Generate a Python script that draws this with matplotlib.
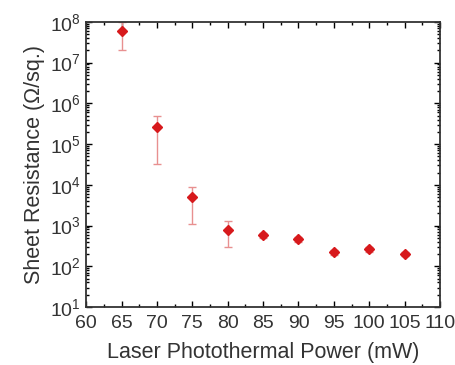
import numpy as np
import matplotlib.pyplot as plt
from matplotlib.ticker import LogLocator, MultipleLocator, NullFormatter

plt.rcParams['font.family'] = ['Liberation Sans', 'DejaVu Sans']

power = [65, 70, 75, 80, 85, 90, 95, 100, 105]
resistance = [6e7, 2.6e5, 5.0e3, 7.8e2, 5.7e2, 4.6e2, 2.2e2, 2.6e2, 2.0e2]
err_low = [2e7, 3.2e4, 1.1e3, 3.0e2, 5.0e2, 4.0e2, 1.9e2, 2.3e2, 1.8e2]
err_high = [1e8, 4.8e5, 9.0e3, 1.3e3, 6.4e2, 5.2e2, 2.5e2, 2.9e2, 2.2e2]

resistance = np.array(resistance)
yerr = [resistance - np.array(err_low), np.array(err_high) - resistance]

fig = plt.figure(figsize=(4.56, 3.65), dpi=100)
ax = fig.add_axes([0.189, 0.159, 0.776, 0.781])

ax.errorbar(power, resistance, yerr=yerr, fmt='none', ecolor='#e89090',
            elinewidth=1.0, capsize=3, capthick=1.0, zorder=2)
ax.plot(power, resistance, 'D', color='#d7191c', markersize=5.5, zorder=3)

ax.set_yscale('log')
ax.set_xlim(60, 110)
ax.set_ylim(10, 1e8)
ax.xaxis.set_major_locator(MultipleLocator(5))
ax.xaxis.set_minor_locator(MultipleLocator(2.5))
ax.yaxis.set_major_locator(LogLocator(base=10, numticks=20))
ax.yaxis.set_minor_locator(LogLocator(base=10, subs=np.arange(2, 10), numticks=20))
ax.yaxis.set_minor_formatter(NullFormatter())

ax.tick_params(which='both', direction='in', top=True, right=True, labelsize=14,
               width=1.0, labelcolor='#333333')
ax.tick_params(which='major', length=4.5)
ax.tick_params(which='minor', length=2.5)
ax.tick_params(axis='x', pad=6)
ax.tick_params(axis='y', pad=4)
for s in ax.spines.values():
    s.set_linewidth(1.3)
    s.set_color('#333333')

ax.set_xlabel('Laser Photothermal Power (mW)', fontsize=15.5, labelpad=7, color='#333333')
ax.set_ylabel('Sheet Resistance (Ω/sq.)', fontsize=15.5, labelpad=3, color='#333333')

fig.savefig('out.png', dpi=100)
